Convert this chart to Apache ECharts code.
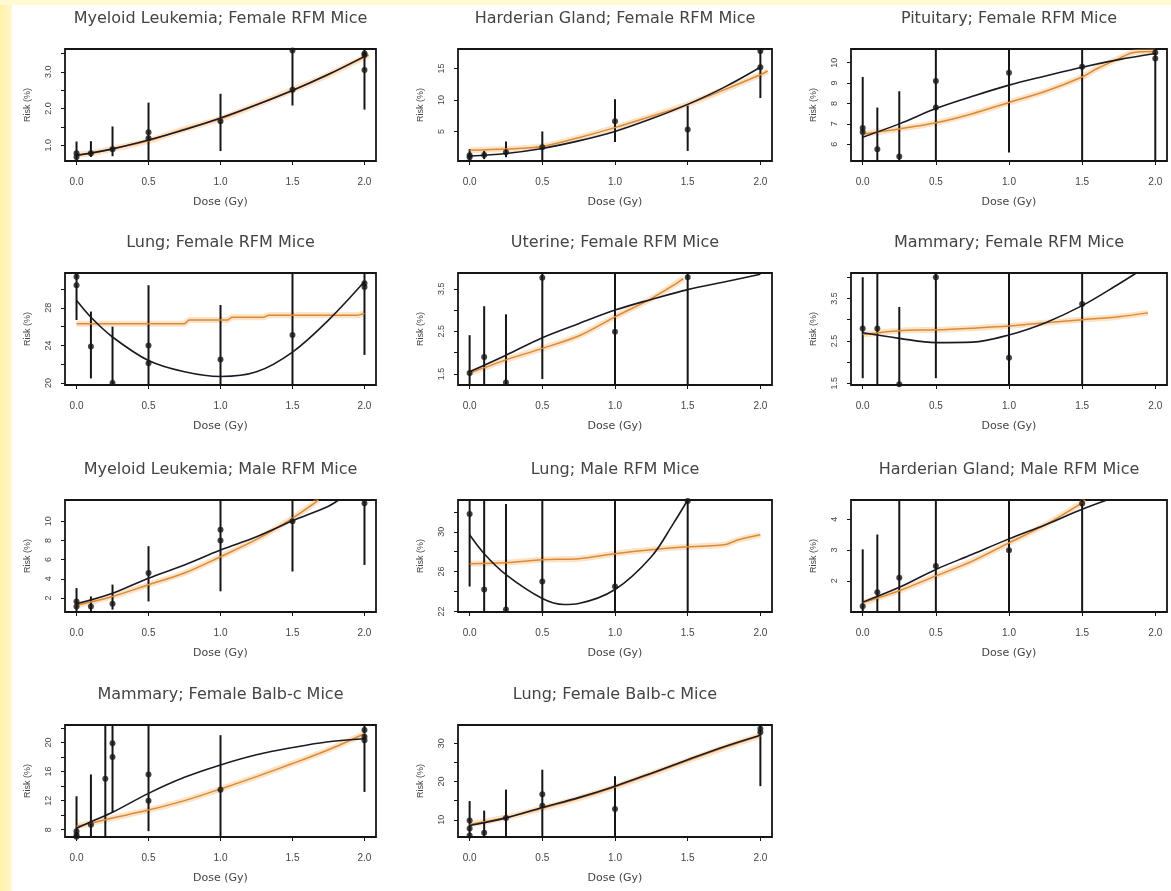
<!DOCTYPE html>
<html>
<head>
<meta charset="utf-8">
<title>Risk vs dose, RFM and Balb-c mice</title>
<script src="https://cdn.jsdelivr.net/npm/echarts@6/dist/echarts.min.js"></script>
<style>
html, body { margin: 0; padding: 0; background: #fff; }
#main { width: 1171px; height: 891px; }
</style>
</head>
<body>
<div id="main"></div>
<script>
// x axis (dose, Gy)
var xRange = [-0.08, 2.08];
var xTicks = [0, 0.5, 1, 1.5, 2];

// Myeloid Leukemia; Female RFM
var mlfRange = [0.57, 3.62];
var mlfTicks = [1, 1.5, 2, 2.5, 3, 3.5];
var mlfLabels = [1, 2, 3];
var mlfPoints = [[0, 0.78], [0, 0.68], [0.1, 0.78], [0.25, 0.89], [0.5, 1.35], [0.5, 1.19], [1, 1.65], [1.5, 3.58], [1.5, 2.51], [2, 3.5], [2, 3.46], [2, 3.05]];
var mlfBars = [[0, 0.58, 1.1], [0.1, 0.68, 1.11], [0.25, 0.7, 1.51], [0.5, 0.59, 2.16], [1, 0.84, 2.4], [1.5, 2.08, 3.62], [2, 1.97, 3.62]];
var mlfFit = [[0, 0.72], [0.25, 0.9], [0.5, 1.14], [0.75, 1.42], [1, 1.74], [1.25, 2.1], [1.5, 2.49], [1.75, 2.93], [2, 3.42]];
var mlfBayes = [[0, 0.74], [0.1, 0.78], [0.25, 0.9], [0.5, 1.12], [0.75, 1.44], [1, 1.72], [1.25, 2.1], [1.5, 2.5], [1.75, 2.92], [2, 3.4], [2.03, 3.46]];

// Harderian Gland; Female RFM
var hgfRange = [0.3, 18.1];
var hgfTicks = [5, 10, 15];
var hgfLabels = [5, 10, 15];
var hgfPoints = [[0, 1.2], [0, 0.9], [0.1, 1.25], [0.25, 1.7], [0.5, 2.5], [1, 6.6], [1.5, 5.3], [2, 17.8], [2, 15.2]];
var hgfBars = [[0, 0.5, 2.2], [0.1, 0.6, 1.9], [0.25, 0.9, 3.4], [0.5, 0.3, 5.0], [1, 3.3, 10.1], [1.5, 1.9, 9.1], [2, 10.3, 18.1]];
var hgfFit = [[0, 1.1], [0.25, 1.5], [0.5, 2.3], [0.75, 3.5], [1, 5.0], [1.25, 7.0], [1.5, 9.3], [1.75, 12.0], [2, 15.2]];
var hgfBayes = [[0, 2.0], [0.25, 2.2], [0.5, 2.6], [0.75, 4.0], [1, 5.6], [1.25, 7.4], [1.5, 9.3], [1.75, 11.6], [2, 14.0], [2.05, 14.6]];

// Pituitary; Female RFM
var pitRange = [5.18, 10.67];
var pitTicks = [6, 7, 8, 9, 10];
var pitLabels = [6, 7, 8, 9, 10];
var pitPoints = [[0, 6.8], [0, 6.6], [0.1, 5.76], [0.25, 5.4], [0.5, 9.1], [0.5, 7.8], [1, 9.5], [1.5, 9.8], [2, 10.5], [2, 10.2]];
var pitBars = [[0, 5.18, 9.3], [0.1, 5.18, 7.8], [0.25, 5.18, 8.6], [0.5, 5.18, 10.67], [1, 5.6, 10.67], [1.5, 5.18, 10.67], [2, 5.18, 10.67]];
var pitFit = [[0, 6.35], [0.25, 7.0], [0.5, 7.75], [0.75, 8.35], [1, 8.9], [1.25, 9.35], [1.5, 9.78], [1.75, 10.15], [2, 10.45]];
var pitBayes = [[0, 6.5], [0.25, 6.75], [0.5, 7.05], [0.75, 7.5], [1, 8.05], [1.25, 8.6], [1.5, 9.3], [1.6, 9.7], [1.75, 10.2], [1.85, 10.5], [2, 10.55]];

// Lung; Female RFM
var lgfRange = [19.8, 31.7];
var lgfTicks = [20, 22, 24, 26, 28, 30];
var lgfLabels = [20, 24, 28];
var lgfPoints = [[0, 31.3], [0, 30.4], [0.1, 23.9], [0.25, 20.0], [0.5, 24.0], [0.5, 22.1], [1, 22.5], [1.5, 25.1], [2, 30.6], [2, 30.2]];
var lgfBars = [[0, 26.7, 31.7], [0.1, 20.5, 27.6], [0.25, 19.8, 26.0], [0.5, 19.8, 30.4], [1, 19.8, 28.3], [1.5, 19.8, 31.7], [2, 23.0, 31.7]];
var lgfFit = [[0, 28.8], [0.1, 27.0], [0.25, 24.9], [0.5, 22.4], [0.75, 21.2], [1, 20.7], [1.25, 21.2], [1.5, 23.3], [1.75, 26.7], [2, 30.8]];
var lgfBayes = [[0, 26.3], [0.75, 26.3], [0.78, 26.7], [1.05, 26.7], [1.08, 27.0], [1.3, 27.0], [1.33, 27.2], [1.95, 27.2], [2, 27.4]];

// Uterine; Female RFM
var utfRange = [1.24, 3.87];
var utfTicks = [1.5, 2, 2.5, 3, 3.5];
var utfLabels = [1.5, 2.5, 3.5];
var utfPoints = [[0, 1.52], [0.1, 1.9], [0.25, 1.3], [0.5, 3.76], [1, 2.49], [1.5, 3.77]];
var utfBars = [[0, 1.24, 2.41], [0.1, 1.24, 3.09], [0.25, 1.24, 2.9], [0.5, 1.38, 3.87], [1, 1.24, 3.87], [1.5, 1.24, 3.87]];
var utfFit = [[0, 1.55], [0.25, 1.94], [0.5, 2.35], [0.75, 2.68], [1, 3.0], [1.25, 3.25], [1.5, 3.48], [1.75, 3.66], [2, 3.84]];
var utfBayes = [[0, 1.52], [0.25, 1.83], [0.5, 2.1], [0.75, 2.39], [1, 2.84], [1.25, 3.27], [1.4, 3.58], [1.47, 3.74]];

// Mammary; Female RFM
var mmfRange = [1.46, 4.1];
var mmfTicks = [1.5, 2, 2.5, 3, 3.5, 4];
var mmfLabels = [1.5, 2.5, 3.5];
var mmfPoints = [[0, 2.79], [0.1, 2.79], [0.25, 1.48], [0.5, 4.0], [1, 2.1], [1.5, 3.37]];
var mmfBars = [[0, 1.62, 4.0], [0.1, 1.46, 4.1], [0.25, 1.46, 3.3], [0.5, 1.62, 4.1], [1, 1.46, 4.1], [1.5, 1.46, 4.1]];
var mmfFit = [[0, 2.69], [0.25, 2.56], [0.5, 2.46], [0.75, 2.47], [1, 2.64], [1.25, 2.93], [1.5, 3.33], [1.75, 3.84], [1.87, 4.1]];
var mmfBayes = [[0, 2.65], [0.25, 2.74], [0.5, 2.76], [0.75, 2.8], [1, 2.85], [1.25, 2.93], [1.5, 3.0], [1.75, 3.07], [1.95, 3.16]];

// Myeloid Leukemia; Male RFM
var mlmRange = [0.55, 12.2];
var mlmTicks = [2, 4, 6, 8, 10];
var mlmLabels = [2, 4, 6, 8, 10];
var mlmPoints = [[0, 1.65], [0, 1.13], [0.1, 1.13], [0.25, 1.4], [0.5, 4.6], [1, 8.0], [1, 9.1], [1.5, 10.0], [2, 11.85]];
var mlmBars = [[0, 0.55, 3.04], [0.1, 0.55, 2.17], [0.25, 0.8, 3.4], [0.5, 1.65, 7.4], [1, 2.7, 12.2], [1.5, 4.76, 12.2], [2, 5.45, 12.2]];
var mlmFit = [[0, 1.4], [0.25, 2.5], [0.5, 4.07], [0.75, 5.45], [1, 7.0], [1.25, 8.38], [1.5, 10.04], [1.75, 11.56], [1.82, 12.2]];
var mlmBayes = [[0, 1.25], [0.25, 2.17], [0.5, 3.38], [0.75, 4.6], [1, 6.3], [1.25, 8.1], [1.5, 10.3], [1.65, 11.85], [1.68, 12.2]];

// Lung; Male RFM
var lgmRange = [21.94, 33.2];
var lgmTicks = [22, 24, 26, 28, 30, 32];
var lgmLabels = [22, 26, 30];
var lgmPoints = [[0, 31.8], [0.1, 24.2], [0.25, 22.2], [0.5, 25.0], [1, 24.5], [1.5, 33.1]];
var lgmBars = [[0, 24.5, 33.2], [0.1, 21.94, 33.2], [0.25, 21.94, 32.8], [0.5, 21.94, 33.2], [1, 21.94, 33.2], [1.5, 21.94, 33.2]];
var lgmFit = [[0, 29.7], [0.1, 27.8], [0.25, 25.7], [0.5, 23.3], [0.65, 22.7], [0.75, 22.8], [1, 24.2], [1.25, 27.5], [1.4, 30.8], [1.5, 33.2]];
var lgmBayes = [[0, 26.8], [0.25, 26.9], [0.5, 27.2], [0.75, 27.3], [1, 27.8], [1.25, 28.2], [1.5, 28.5], [1.75, 28.7], [1.85, 29.2], [2, 29.7]];

// Harderian Gland; Male RFM
var hgmRange = [0.99, 4.62];
var hgmTicks = [2, 3, 4];
var hgmLabels = [2, 3, 4];
var hgmPoints = [[0, 1.18], [0.1, 1.63], [0.25, 2.1], [0.5, 2.48], [1, 2.99], [1.5, 4.51]];
var hgmBars = [[0, 0.99, 3.02], [0.1, 0.99, 3.5], [0.25, 0.99, 4.62], [0.5, 0.99, 4.62], [1, 0.99, 4.62], [1.5, 0.99, 4.62]];
var hgmFit = [[0, 1.31], [0.25, 1.79], [0.5, 2.37], [0.75, 2.86], [1, 3.36], [1.25, 3.82], [1.5, 4.32], [1.67, 4.62]];
var hgmBayes = [[0, 1.29], [0.25, 1.68], [0.5, 2.16], [0.75, 2.64], [1, 3.23], [1.25, 3.82], [1.5, 4.53], [1.52, 4.62]];

// Mammary; Female Balb-c
var mmbRange = [7.0, 22.4];
var mmbTicks = [8, 10, 12, 14, 16, 18, 20, 22];
var mmbLabels = [8, 12, 16, 20];
var mmbPoints = [[0, 7.8], [0, 7.3], [0, 7.05], [0.1, 8.7], [0.2, 15.0], [0.25, 19.9], [0.25, 18.0], [0.5, 15.6], [0.5, 12.0], [1, 13.5], [2, 21.7], [2, 20.8], [2, 20.3]];
var mmbBars = [[0, 7.0, 12.6], [0.1, 7.0, 15.6], [0.2, 7.0, 22.4], [0.25, 10.3, 22.4], [0.5, 7.8, 22.4], [1, 7.0, 21.0], [2, 13.2, 22.4]];
var mmbFit = [[0, 8.2], [0.1, 9.1], [0.25, 10.4], [0.5, 13.0], [0.75, 15.2], [1, 16.9], [1.25, 18.3], [1.5, 19.3], [1.75, 20.1], [2, 20.5]];
var mmbBayes = [[0, 8.45], [0.25, 9.6], [0.5, 10.7], [0.75, 12.0], [1, 13.6], [1.25, 15.3], [1.5, 17.1], [1.75, 19.0], [2, 21.2]];

// Lung; Female Balb-c
var lgbRange = [5.5, 34.8];
var lgbTicks = [10, 15, 20, 25, 30];
var lgbLabels = [10, 20, 30];
var lgbPoints = [[0, 9.8], [0, 7.7], [0, 5.9], [0.1, 6.6], [0.25, 10.5], [0.5, 16.7], [0.5, 13.7], [1, 12.8], [2, 33.8], [2, 32.9]];
var lgbBars = [[0, 5.5, 14.9], [0.1, 5.5, 12.4], [0.25, 5.5, 17.9], [0.5, 5.5, 23.1], [1, 5.5, 21.4], [2, 18.8, 34.8]];
var lgbFit = [[0, 8.5], [0.25, 10.5], [0.5, 13.2], [0.75, 15.8], [1, 18.8], [1.25, 22.2], [1.5, 25.7], [1.75, 29.1], [2, 32.1]];
var lgbBayes = [[0, 8.8], [0.25, 10.6], [0.5, 13.0], [0.75, 15.6], [1, 18.6], [1.25, 22.0], [1.5, 25.5], [1.75, 28.9], [2, 32.0]];

var panels = [
    {title: 'Myeloid Leukemia; Female RFM Mice', range: mlfRange, ticks: mlfTicks, labels: mlfLabels, points: mlfPoints, bars: mlfBars, fit: mlfFit, bayes: mlfBayes, dec: 1},
    {title: 'Harderian Gland; Female RFM Mice', range: hgfRange, ticks: hgfTicks, labels: hgfLabels, points: hgfPoints, bars: hgfBars, fit: hgfFit, bayes: hgfBayes, dec: 0},
    {title: 'Pituitary; Female RFM Mice', range: pitRange, ticks: pitTicks, labels: pitLabels, points: pitPoints, bars: pitBars, fit: pitFit, bayes: pitBayes, dec: 0},
    {title: 'Lung; Female RFM Mice', range: lgfRange, ticks: lgfTicks, labels: lgfLabels, points: lgfPoints, bars: lgfBars, fit: lgfFit, bayes: lgfBayes, dec: 0, step: true},
    {title: 'Uterine; Female RFM Mice', range: utfRange, ticks: utfTicks, labels: utfLabels, points: utfPoints, bars: utfBars, fit: utfFit, bayes: utfBayes, dec: 1},
    {title: 'Mammary; Female RFM Mice', range: mmfRange, ticks: mmfTicks, labels: mmfLabels, points: mmfPoints, bars: mmfBars, fit: mmfFit, bayes: mmfBayes, dec: 1},
    {title: 'Myeloid Leukemia; Male RFM Mice', range: mlmRange, ticks: mlmTicks, labels: mlmLabels, points: mlmPoints, bars: mlmBars, fit: mlmFit, bayes: mlmBayes, dec: 0},
    {title: 'Lung; Male RFM Mice', range: lgmRange, ticks: lgmTicks, labels: lgmLabels, points: lgmPoints, bars: lgmBars, fit: lgmFit, bayes: lgmBayes, dec: 0},
    {title: 'Harderian Gland; Male RFM Mice', range: hgmRange, ticks: hgmTicks, labels: hgmLabels, points: hgmPoints, bars: hgmBars, fit: hgmFit, bayes: hgmBayes, dec: 0},
    {title: 'Mammary; Female Balb-c Mice', range: mmbRange, ticks: mmbTicks, labels: mmbLabels, points: mmbPoints, bars: mmbBars, fit: mmbFit, bayes: mmbBayes, dec: 0},
    {title: 'Lung; Female Balb-c Mice', range: lgbRange, ticks: lgbTicks, labels: lgbLabels, points: lgbPoints, bars: lgbBars, fit: lgbFit, bayes: lgbBayes, dec: 0}
];

// layout of the 4x3 panel grid (pixels)
var colLeft = [65, 458, 851];
var colWidth = [311, 314, 316];
var rowTop = [49, 273, 500, 725];
var rowHeight = 112;

var FONT = 'Liberation Sans';
var INK = '#151515';

// vertical error bar drawn through the panel's own axes
function renderBar(params, api) {
    var lo = api.coord([api.value(0), api.value(1)]);
    var hi = api.coord([api.value(0), api.value(2)]);
    return {
        type: 'line',
        shape: {x1: lo[0], y1: lo[1], x2: hi[0], y2: hi[1]},
        style: {stroke: INK, lineWidth: 2}
    };
}

var grids = [], xAxes = [], yAxes = [], titles = [], series = [];

panels.forEach(function (p, i) {
    var r = Math.floor(i / 3), c = i % 3;
    grids.push({
        left: colLeft[c], top: rowTop[r], width: colWidth[c], height: rowHeight,
        show: true, borderColor: INK, borderWidth: 1.8, backgroundColor: '#fff'
    });
    titles.push({
        text: p.title,
        left: colLeft[c] + colWidth[c] / 2,
        top: rowTop[r] - 38,
        textAlign: 'center',
        padding: 0,
        textStyle: {fontSize: 16, fontWeight: 'normal', color: '#444', fontFamily: 'DejaVu Sans'}
    });
    xAxes.push({
        type: 'value', gridIndex: i, min: xRange[0], max: xRange[1],
        name: 'Dose (Gy)', nameLocation: 'middle', nameGap: 36,
        nameTextStyle: {fontSize: 11, color: '#444', fontFamily: 'DejaVu Sans'},
        axisLine: {show: false, onZero: false},
        splitLine: {show: false},
        axisTick: {show: true, length: 4, lineStyle: {color: INK}, customValues: xTicks},
        axisLabel: {fontSize: 10, color: '#444', fontFamily: FONT, margin: 16, customValues: xTicks,
            formatter: function (v) { return v.toFixed(1); }}
    });
    var dec = p.dec;
    yAxes.push({
        type: 'value', gridIndex: i, min: p.range[0], max: p.range[1],
        name: 'Risk (%)', nameLocation: 'middle', nameGap: 33, nameRotate: 90,
        nameTextStyle: {fontSize: 9, color: '#444', fontFamily: FONT},
        axisLine: {show: false, onZero: false},
        splitLine: {show: false},
        axisTick: {show: true, length: 4, lineStyle: {color: INK}, customValues: p.ticks},
        axisLabel: {fontSize: 9, color: '#444', fontFamily: FONT, rotate: 90, margin: 12, customValues: p.labels,
            formatter: function (v) { return v.toFixed(dec); }}
    });
    series.push({
        type: 'custom', xAxisIndex: i, yAxisIndex: i, renderItem: renderBar,
        data: p.bars, clip: true, z: 3, silent: true
    });
    series.push({
        type: 'line', xAxisIndex: i, yAxisIndex: i, data: p.bayes, showSymbol: false,
        smooth: p.step ? false : 0.3, lineStyle: {color: 'rgba(245,175,95,0.35)', width: 6}, z: 2, silent: true
    });
    series.push({
        type: 'line', xAxisIndex: i, yAxisIndex: i, data: p.bayes, showSymbol: false,
        smooth: p.step ? false : 0.3, lineStyle: {color: '#DB8A36', width: 1.5}, z: 4, silent: true
    });
    series.push({
        type: 'line', xAxisIndex: i, yAxisIndex: i, data: p.fit, showSymbol: false,
        smooth: 0.35, lineStyle: {color: '#1a1a26', width: 1.6}, z: 5, silent: true
    });
    series.push({
        type: 'scatter', xAxisIndex: i, yAxisIndex: i, data: p.points,
        symbol: 'circle', symbolSize: 6, itemStyle: {color: INK}, z: 6, silent: true
    });
});

var myChart = echarts.init(document.getElementById('main'));
var option = {
    backgroundColor: '#fff',
    animation: false,
    textStyle: {fontFamily: FONT},
    title: titles,
    grid: grids,
    xAxis: xAxes,
    yAxis: yAxes,
    series: series,
    graphic: [
        {type: 'rect', z: -10, shape: {x: 0, y: 0, width: 12, height: 891},
            style: {fill: new echarts.graphic.LinearGradient(0, 0, 1, 0, [
                {offset: 0, color: '#FFF1A6'}, {offset: 1, color: '#FFF8D0'}])}},
        {type: 'rect', z: -10, shape: {x: 0, y: 0, width: 1171, height: 5},
            style: {fill: '#FFFAD2'}}
    ]
};
myChart.setOption(option);
</script>
</body>
</html>
